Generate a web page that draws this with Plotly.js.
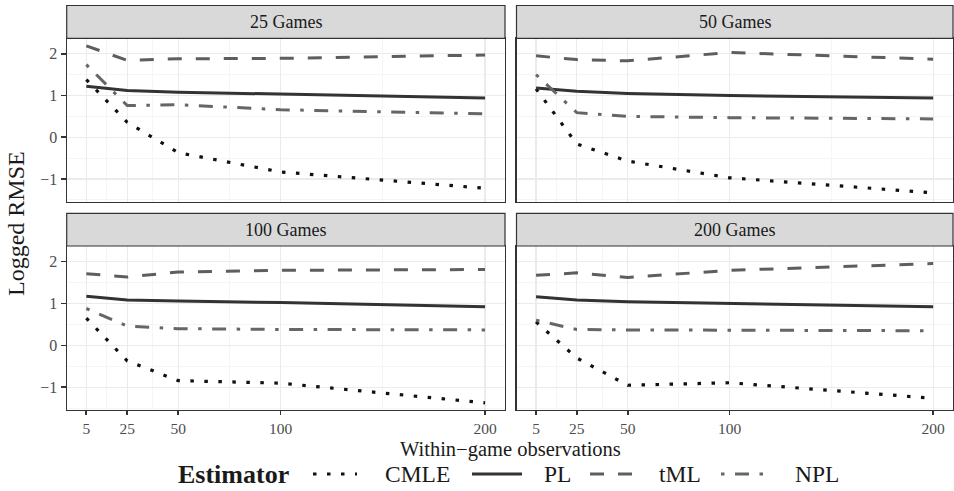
<!DOCTYPE html>
<html>
<head>
<meta charset="utf-8">
<script src="https://cdn.plot.ly/plotly-3.0.1.min.js"></script>
<style>html,body{margin:0;padding:0;background:#fff;}#chart{width:954px;height:491px;}</style>
</head>
<body>
<div id="chart"></div>
<script>
// ---- data ----
const xObs = [5, 25, 50, 100, 200];
const xTicks = [5, 25, 50, 100, 200];
const panelNames = ['25 Games', '50 Games', '100 Games', '200 Games'];
const estimators = ['CMLE', 'PL', 'tML', 'NPL'];
// one row per panel (25, 50, 100, 200 games), values at xObs
const cmle = [
  [1.38, 0.36, -0.37, -0.83, -1.22],
  [1.16, -0.16, -0.57, -0.97, -1.33],
  [0.65, -0.37, -0.84, -0.90, -1.37],
  [0.56, -0.30, -0.95, -0.89, -1.26]
];
const pl = [
  [1.22, 1.12, 1.08, 1.03, 0.94],
  [1.18, 1.10, 1.05, 1.00, 0.94],
  [1.17, 1.08, 1.06, 1.02, 0.92],
  [1.16, 1.08, 1.04, 1.00, 0.92]
];
const tml = [
  [2.19, 1.84, 1.88, 1.89, 1.97],
  [1.95, 1.86, 1.83, 2.03, 1.87],
  [1.71, 1.63, 1.75, 1.79, 1.81],
  [1.67, 1.73, 1.62, 1.79, 1.95]
];
const npl = [
  [1.74, 0.76, 0.78, 0.66, 0.56],
  [1.50, 0.59, 0.50, 0.47, 0.44],
  [0.88, 0.46, 0.40, 0.38, 0.37],
  [0.60, 0.38, 0.37, 0.36, 0.35]
];
const seriesData = [cmle, pl, tml, npl];

// ---- styles ----
const lineStyles = [
  {color: '#111111', width: 3.2, dash: '3.5px,10.5px'},
  {color: '#333333', width: 3, dash: 'solid'},
  {color: '#5e5e5e', width: 3, dash: '14px,14px'},
  {color: '#666666', width: 3, dash: '3.5px,10.5px,14px,10.5px'}
];

const W = 954, H = 491;
const colPx = [[66.7, 505], [516.5, 953]];
const rowPx = [[38.3, 201.6], [246, 410]];
const stripPx = [[5.5, 38.3], [213.3, 246]];
const fx = p => p / W;
const fy = p => 1 - p / H;

const traces = [];
panelNames.forEach((pn, p) => {
  const suf = p === 0 ? '' : String(p + 1);
  estimators.forEach((est, e) => {
    traces.push({
      type: 'scatter', mode: 'lines',
      x: xObs, y: seriesData[e][p],
      xaxis: 'x' + suf, yaxis: 'y' + suf,
      name: est, legendgroup: est, showlegend: false,
      line: lineStyles[e], hoverinfo: 'skip'
    });
  });
});

const layout = {
  width: W, height: H,
  margin: {l: 0, r: 0, t: 0, b: 0},
  paper_bgcolor: '#ffffff', plot_bgcolor: '#ffffff',
  font: {family: '"Liberation Serif", "DejaVu Serif", serif', color: '#1a1a1a', size: 16},
  showlegend: false,
  shapes: [], annotations: []
};

panelNames.forEach((pn, p) => {
  const r = Math.floor(p / 2), c = p % 2;
  const suf = p === 0 ? '' : String(p + 1);
  layout['xaxis' + suf] = {
    domain: [fx(colPx[c][0]), fx(colPx[c][1])],
    anchor: 'y' + suf,
    range: [-4.6, 209.75],
    tickvals: xTicks, ticktext: xTicks.map(String),
    showticklabels: r === 1,
    ticks: r === 1 ? 'outside' : '', ticklen: 4, tickwidth: 1.8, tickcolor: '#333333',
    tickfont: {size: 15.5, color: '#4d4d4d'},
    showgrid: true, gridcolor: '#ebebeb', gridwidth: 1.3,
    minor: {tickvals: [15, 37.5, 75, 150], showgrid: true, gridcolor: '#f2f2f2', gridwidth: 0.8, ticks: ''},
    zeroline: false, showline: true, mirror: true, linecolor: '#333333', linewidth: 1.2,
    fixedrange: true
  };
  layout['yaxis' + suf] = {
    domain: [fy(rowPx[r][1]), fy(rowPx[r][0])],
    anchor: 'x' + suf,
    range: [-1.54, 2.37],
    tickvals: [-1, 0, 1, 2], ticktext: ['\u22121', '0', '1', '2'],
    showticklabels: c === 0,
    ticks: c === 0 ? 'outside' : '', ticklen: 5, tickwidth: 1.8, tickcolor: '#333333',
    tickfont: {size: 16, color: '#4d4d4d'},
    showgrid: true, gridcolor: '#ebebeb', gridwidth: 1.3,
    minor: {tickvals: [-1.5, -0.5, 0.5, 1.5], showgrid: true, gridcolor: '#f2f2f2', gridwidth: 0.8, ticks: ''},
    zeroline: false, showline: true, mirror: true, linecolor: '#333333', linewidth: 1.2,
    fixedrange: true
  };

  layout.shapes.push({
    type: 'rect', xref: 'paper', yref: 'paper', layer: 'above',
    x0: fx(colPx[c][0]), x1: fx(colPx[c][1]),
    y0: fy(stripPx[r][1]), y1: fy(stripPx[r][0]),
    fillcolor: '#d9d9d9', line: {color: '#333333', width: 1.2}
  });
  layout.annotations.push({
    xref: 'paper', yref: 'paper', showarrow: false,
    x: fx((colPx[c][0] + colPx[c][1]) / 2), y: fy((stripPx[r][0] + stripPx[r][1]) / 2),
    xanchor: 'center', yanchor: 'middle',
    text: pn, font: {size: 18, color: '#1a1a1a'}
  });
});

// axis titles
layout.annotations.push({
  xref: 'paper', yref: 'paper', showarrow: false,
  x: fx(511), y: fy(449), xanchor: 'center', yanchor: 'middle',
  text: 'Within\u2212game observations', font: {size: 20.5, color: '#1a1a1a'}
});
layout.annotations.push({
  xref: 'paper', yref: 'paper', showarrow: false,
  x: fx(16), y: fy(224), xanchor: 'center', yanchor: 'middle', textangle: -90,
  text: 'Logged RMSE', font: {size: 24, color: '#1a1a1a'}
});

// legend (ggplot-style, wide keys)
const legendY = 474;
const legendTitleX = 176;
const keyPx = [[313, 357], [472, 522], [590, 633], [721, 765]];
const labelPx = [383, 542, 657, 793];
layout.annotations.push({
  xref: 'paper', yref: 'paper', showarrow: false,
  x: fx(legendTitleX), y: fy(legendY), xanchor: 'left', yanchor: 'middle',
  text: '<b>Estimator</b>', font: {size: 26, color: '#1a1a1a'}
});
estimators.forEach((est, e) => {
  layout.shapes.push({
    type: 'line', xref: 'paper', yref: 'paper',
    x0: fx(keyPx[e][0]), x1: fx(keyPx[e][1]), y0: fy(legendY), y1: fy(legendY),
    line: {color: lineStyles[e].color, width: 3, dash: lineStyles[e].dash}
  });
  layout.annotations.push({
    xref: 'paper', yref: 'paper', showarrow: false,
    x: fx(labelPx[e]), y: fy(legendY), xanchor: 'left', yanchor: 'middle',
    text: est, font: {size: 23.5, color: '#1a1a1a'}
  });
});

Plotly.newPlot('chart', traces, layout, {staticPlot: true, displayModeBar: false});
</script>
</body>
</html>
